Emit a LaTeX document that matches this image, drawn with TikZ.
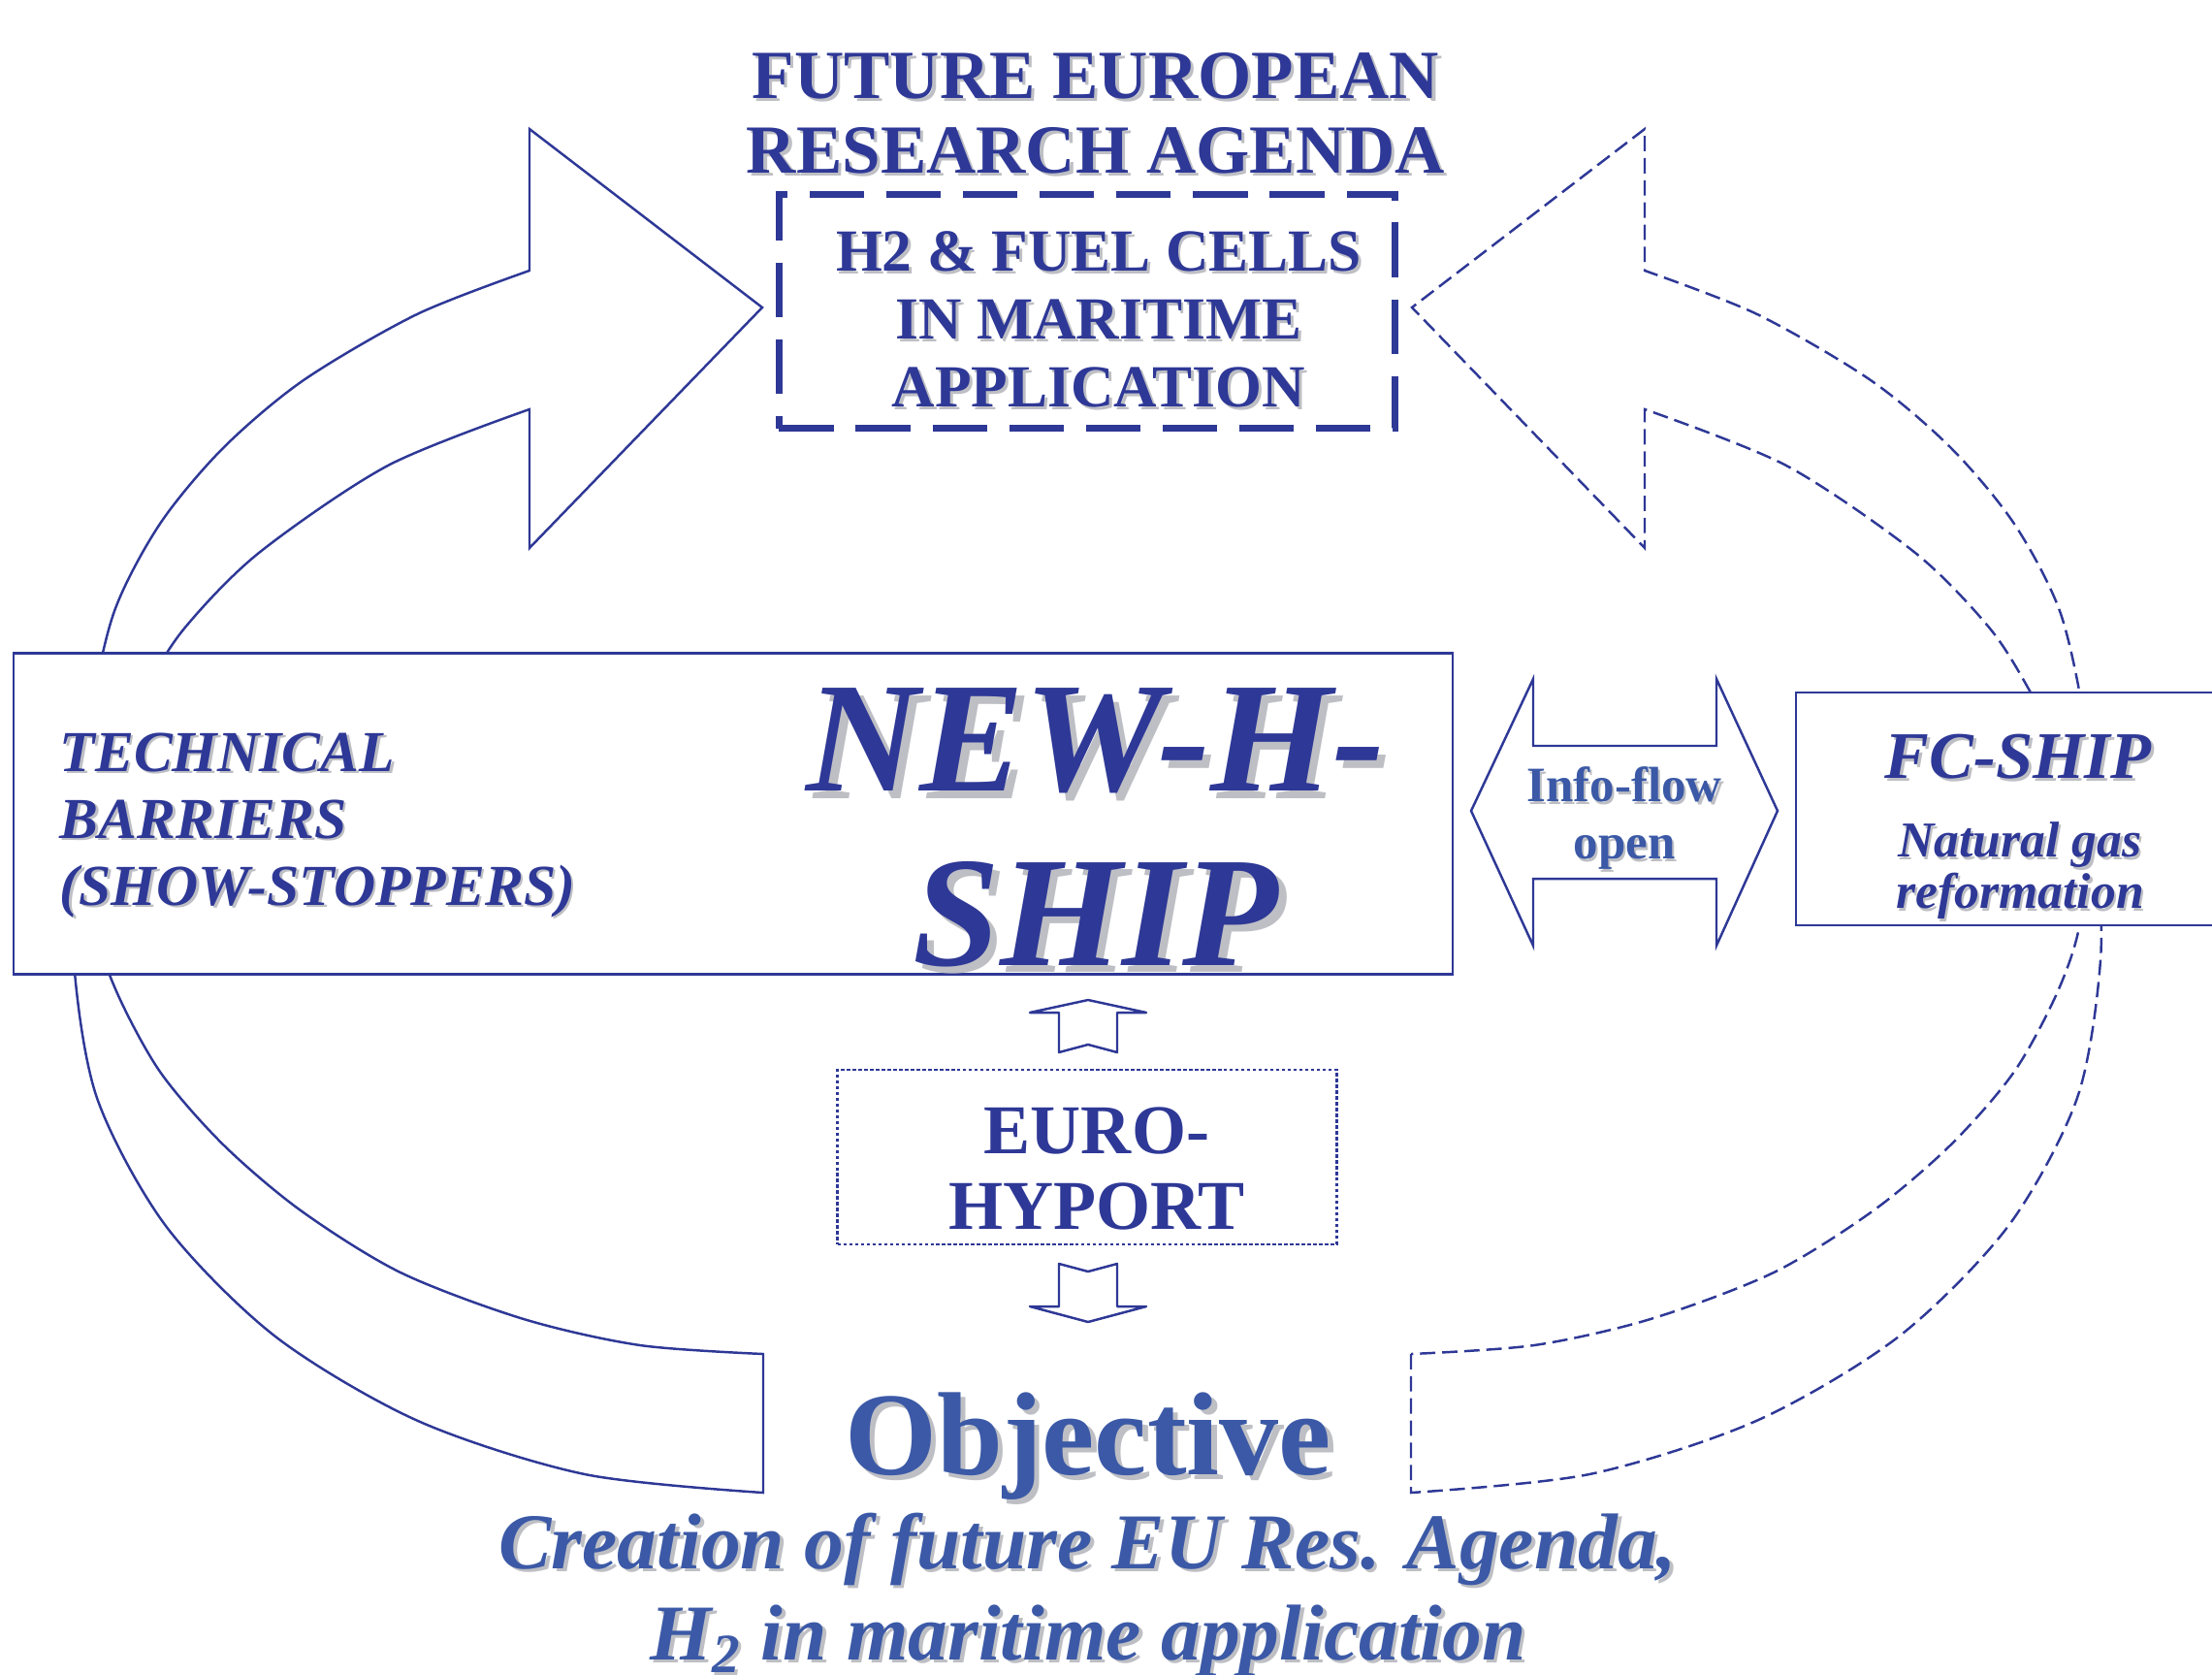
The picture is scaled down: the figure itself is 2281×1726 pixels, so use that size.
\documentclass[tikz,border=0pt]{standalone}
\usepackage{fontspec}
\setmainfont{Liberation Serif}
\usepackage{tikz}

\definecolor{navyblue}{RGB}{46,56,150}
\definecolor{midblue}{RGB}{59,89,166}
\definecolor{shadowgray}{RGB}{190,191,196}

% text with a grey drop shadow
\newcommand{\shd}[1]{\leavevmode\rlap{\kern.045em\raisebox{-.045em}{\color{shadowgray}#1}}#1}

% the big curved arrow, drawn once solid and once mirrored/dashed
\newcommand{\loopshape}{(787,1396) -- (787,1539)
  -- plot[smooth] coordinates {(787,1539) (603,1520) (431,1465) (284,1378) (171,1264) (100,1132) (76,990) (80,860) (93,740) (118,630) (165,540) (230,462) (313,392) (430,324) (546,279)}
  -- (546,133) -- (786,317) -- (546,565) -- (546,422)
  -- plot[smooth] coordinates {(546,422) (400,480) (267,570) (190,648) (148,714) (115,780) (97,860) (97,950) (120,1022) (165,1105) (230,1180) (310,1248) (413,1312) (540,1360) (660,1387) (787,1396)}
  -- cycle}

\begin{document}
\begin{tikzpicture}[x=0.01cm,y=-0.01cm,line join=miter]
\tikzstyle{every node}=[inner sep=0pt,text=navyblue,align=center]
\tikzstyle{loopline}=[draw=navyblue,line width=0.7pt]
\tikzstyle{loopdash}=[loopline,dash pattern=on 4.5pt off 2pt]
\tikzstyle{smallarrow}=[loopline,line join=round]
\tikzstyle{plainbox}=[rectangle,draw=navyblue,line width=0.75pt,fill=white]
\tikzstyle{agendabox}=[rectangle,draw=navyblue,line width=2pt,dash pattern=on 16pt off 6.5pt,minimum width=6.35cm,minimum height=2.41cm]
\tikzstyle{portbox}=[rectangle,draw=navyblue,line width=0.8pt,dash pattern=on 1pt off 0.7pt,minimum width=5.14cm,minimum height=1.8cm]

\useasboundingbox (0,0) rectangle (2281,1726);

% the two loops
\draw[loopline] \loopshape;
\begin{scope}[shift={(2242,0)},xscale=-1]
\draw[loopdash] \loopshape;
\end{scope}

\node[plainbox,minimum width=14.83cm,minimum height=3.31cm] (newhship) at (756,839) {};
\node[plainbox,minimum width=4.62cm,minimum height=2.4cm] (fcship) at (2083,834) {};

\node (title) at (1130,118) [font=\bfseries\fontsize{20.2}{21.9}\selectfont] {\shd{FUTURE EUROPEAN}\\\shd{RESEARCH AGENDA}};
\node[agendabox] (agenda) at (1121,321) {};
\node (agendatxt) at (1133,331) [font=\bfseries\fontsize{17.5}{19.9}\selectfont] {\shd{H2 \& FUEL CELLS}\\\shd{IN MARITIME}\\\shd{APPLICATION}};

\node (barriers) at (61,852) [anchor=west,align=left,font=\bfseries\itshape\fontsize{17}{19.6}\selectfont] {\shd{TECHNICAL}\\\shd{BARRIERS}\\\shd{(SHOW-STOPPERS)}};
\node (shipname) at (1130,857) [font=\bfseries\itshape\fontsize{46}{51}\selectfont] {\shd{NEW-H-}\\\shd{SHIP}};

% info-flow double arrow
\draw[loopline] (1517,836) -- (1581,700) -- (1581,769) -- (1770,769) -- (1770,700) -- (1833,836) -- (1770,975) -- (1770,906) -- (1581,906) -- (1581,975) -- cycle;
\node (infoflow) at (1675,845) [text=midblue,font=\bfseries\fontsize{14.5}{16.8}\selectfont] {\shd{Info-flow}\\\shd{open}};

\node (fcname) at (2081,802) [anchor=base,font=\bfseries\itshape\fontsize{19.5}{21}\selectfont] {\shd{FC-SHIP}};
\node (fcfuel) at (2083,899) [font=\bfseries\itshape\fontsize{14.7}{15.1}\selectfont] {\shd{Natural gas}\\\shd{reformation}};

% euro-hyport with its two small arrows
\draw[smallarrow] (1122,1031) -- (1182,1044) -- (1152,1044) -- (1152,1085) -- (1122,1077) -- (1092,1085) -- (1092,1044) -- (1062,1044) -- cycle;
\node[portbox] (europort) at (1121,1193) {};
\node (eurotxt) at (1131,1205) [font=\bfseries\fontsize{20.5}{22.4}\selectfont] {EURO-\\HYPORT};
\draw[smallarrow] (1092,1303) -- (1122,1311) -- (1152,1303) -- (1152,1347) -- (1182,1347) -- (1122,1363) -- (1062,1347) -- (1092,1347) -- cycle;

\node (objective) at (1122,1520) [anchor=base,text=midblue,font=\bfseries\fontsize{34.7}{40}\selectfont] {\shd{Objective}};
\node (creation) at (1122,1646) [text=midblue,font=\bfseries\itshape\fontsize{23.2}{26.7}\selectfont] {\shd{Creation of future EU Res. Agenda,}\\\shd{H\textsubscript{2} in maritime application}};
\end{tikzpicture}
\end{document}
